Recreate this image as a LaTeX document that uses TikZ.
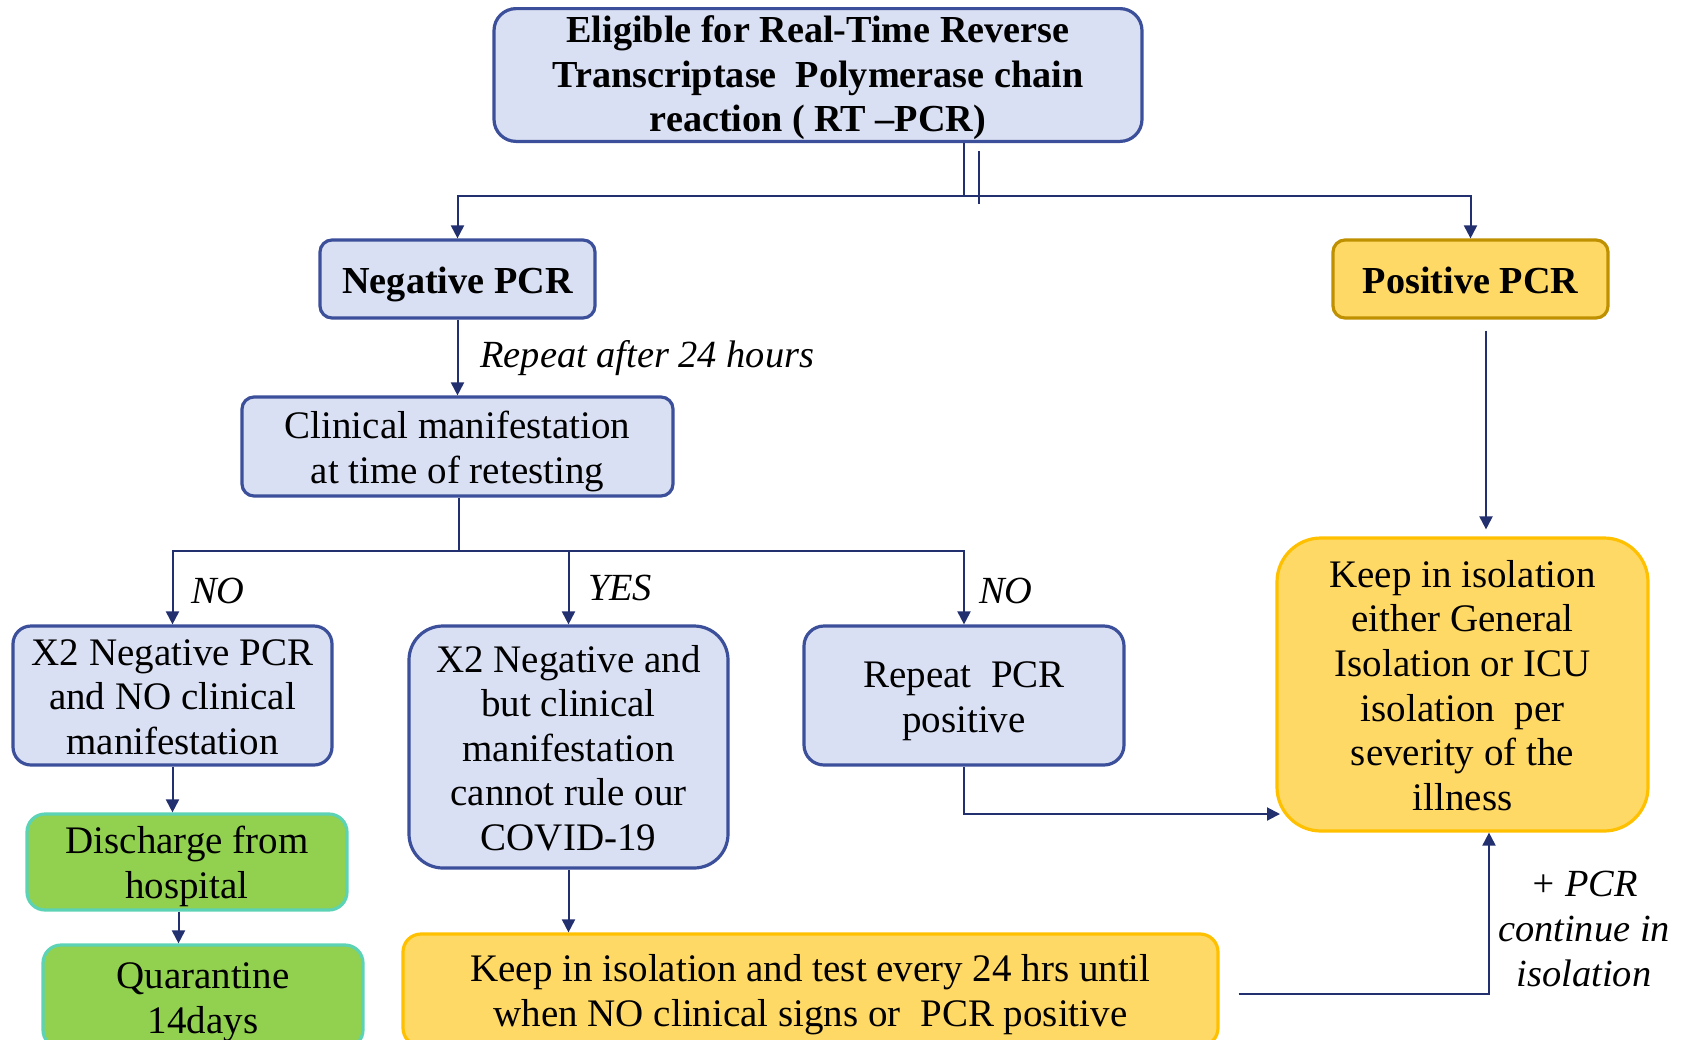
\documentclass[tikz,border=0pt]{standalone}
\usepackage{fontspec}
\setmainfont{Liberation Serif}
\usetikzlibrary{arrows.meta}
\definecolor{boxfill}{RGB}{218,224,243}
\definecolor{boxline}{RGB}{60,79,154}
\definecolor{wire}{RGB}{35,48,112}
\definecolor{yfill}{RGB}{255,217,102}
\definecolor{yline}{RGB}{255,192,0}
\definecolor{goldline}{RGB}{191,144,0}
\definecolor{gfill}{RGB}{146,208,80}
\definecolor{gline}{RGB}{93,211,181}
\newcommand\bodyfont{\fontsize{19.5}{22.3}\selectfont}
\newcommand\headfont{\fontsize{19.1}{22.3}\selectfont\bfseries}
% line-box struts so every box text sits on full ascender/descender height
\newcommand\upstrut{\rule{0pt}{19pt}}
\newcommand\lowupstrut{\rule{0pt}{17pt}}
\newcommand\downstrut{\rule[-4.8pt]{0pt}{0pt}}
\tikzset{
  flowbox/.style={draw=boxline, fill=boxfill, line width=1.6pt, rounded corners=6pt,
    align=center, inner sep=0pt, font=\bodyfont, execute at end node=\downstrut},
  yellowbox/.style={flowbox, draw=yline, fill=yfill},
  greenbox/.style={flowbox, draw=gline, fill=gfill},
  conn/.style={draw=wire, line width=1pt},
  arr/.style={conn, -{Triangle[width=6.5pt,length=6.5pt]}},
  lbl/.style={font=\fontsize{19.2}{22.3}\selectfont\itshape, inner sep=0pt, align=center}
}
\begin{document}
\begin{tikzpicture}[x=0.5pt, y=-0.5pt]
\clip (0,0) rectangle (1686,1039);
\useasboundingbox (0,0) rectangle (1686,1039);

% boxes
\node[flowbox, minimum width=324pt, minimum height=66pt, rounded corners=11pt,
  font=\headfont] (top) at (818,75)
  {\lowupstrut Eligible for Real-Time Reverse\\Transcriptase\ \ Polymerase chain\\reaction ( RT --PCR)};
\node[flowbox, minimum width=137.5pt, minimum height=39pt,
  font=\headfont] (neg) at (457.5,279) {\upstrut Negative PCR};
\node[yellowbox, draw=goldline, minimum width=137.5pt, minimum height=39pt,
  font=\headfont] (pos) at (1470.5,279) {\upstrut Positive PCR};
\node[flowbox, minimum width=215.5pt, minimum height=49.5pt] (clin) at (457.5,446.5)
  {\upstrut Clinical manifestation\\at time of retesting};
\node[flowbox, minimum width=159.5pt, minimum height=69.5pt, rounded corners=9pt] (left) at (172.5,695.5)
  {\upstrut X2 Negative PCR\\and NO clinical\\manifestation};
\node[flowbox, minimum width=159.5pt, minimum height=121pt, rounded corners=17pt] (mid) at (568.5,747)
  {\upstrut X2 Negative and\\but clinical\\manifestation\\cannot rule our\\COVID-19};
\node[flowbox, minimum width=160pt, minimum height=69.5pt, rounded corners=10pt] (rep) at (964,695.5)
  {\upstrut Repeat\ \ PCR\\positive};
\node[yellowbox, minimum width=185.5pt, minimum height=146.5pt, rounded corners=22pt] (iso) at (1462.5,684.5)
  {\upstrut Keep in isolation\\either General\\Isolation or ICU\\isolation\ \ per\\severity of the\\illness};
\node[greenbox, minimum width=160pt, minimum height=48pt, rounded corners=9pt] (dis) at (187,862)
  {\upstrut Discharge from\\hospital};
\node[greenbox, minimum width=160pt, minimum height=51.5pt, rounded corners=9pt] (quar) at (203,996.5)
  {\upstrut Quarantine\\14days};
\node[yellowbox, minimum width=407.5pt, minimum height=56pt, rounded corners=9pt] (bot) at (810.5,990)
  {\upstrut Keep in isolation and test every 24 hrs until\\when NO clinical signs or\ \ PCR positive};

% split below the eligibility box
\coordinate (split) at (964,196);
\coordinate (tickA) at (979,151);
\coordinate (tickB) at (979,204);
\draw[conn] (top.south -| split) -- (split);
\draw[conn] (tickA) -- (tickB);
\draw[arr] (split) -| (neg.north);
\draw[arr] (split) -| (pos.north);

% negative branch
\draw[arr] (neg.south) -- (clin.north);
\node[lbl, anchor=west] (rep24) at (480,358) {Repeat after 24 hours};

\coordinate (split2) at (459,551);
\draw[conn] (clin.south -| split2) -- (split2);
\draw[arr] (split2) -| (left.north);
\draw[arr] (split2) -| (mid.north);
\draw[arr] (split2) -| (rep.north);
\node[lbl] (no1) at (218,591) {NO};
\node[lbl] (yes) at (620,588) {YES};
\node[lbl] (no2) at (1006,591) {NO};

% positive branch
\draw[arr, shorten <=5.5pt, shorten >=3.5pt] ([xshift=7.75pt]pos.south) -- ([xshift=7.75pt]pos.south |- iso.north);

% repeat positive into isolation
\coordinate (isoin) at (1280,814);
\draw[arr] (rep.south) |- (isoin);

% discharge path
\draw[arr] (left.south) -- (left.south |- dis.north);
\draw[arr] ([xshift=-4.25pt]dis.south) -- ([xshift=-4.25pt]dis.south |- quar.north);

% clinical signs persist
\draw[arr] (mid.south) -- (mid.south |- bot.north);
\draw[arr] ([xshift=9.5pt,yshift=-2pt]bot.east) -| ([xshift=13.25pt]iso.south);
\node[lbl] (cont) at (1584,929) {+ PCR\\continue in\\isolation};
\end{tikzpicture}
\end{document}
